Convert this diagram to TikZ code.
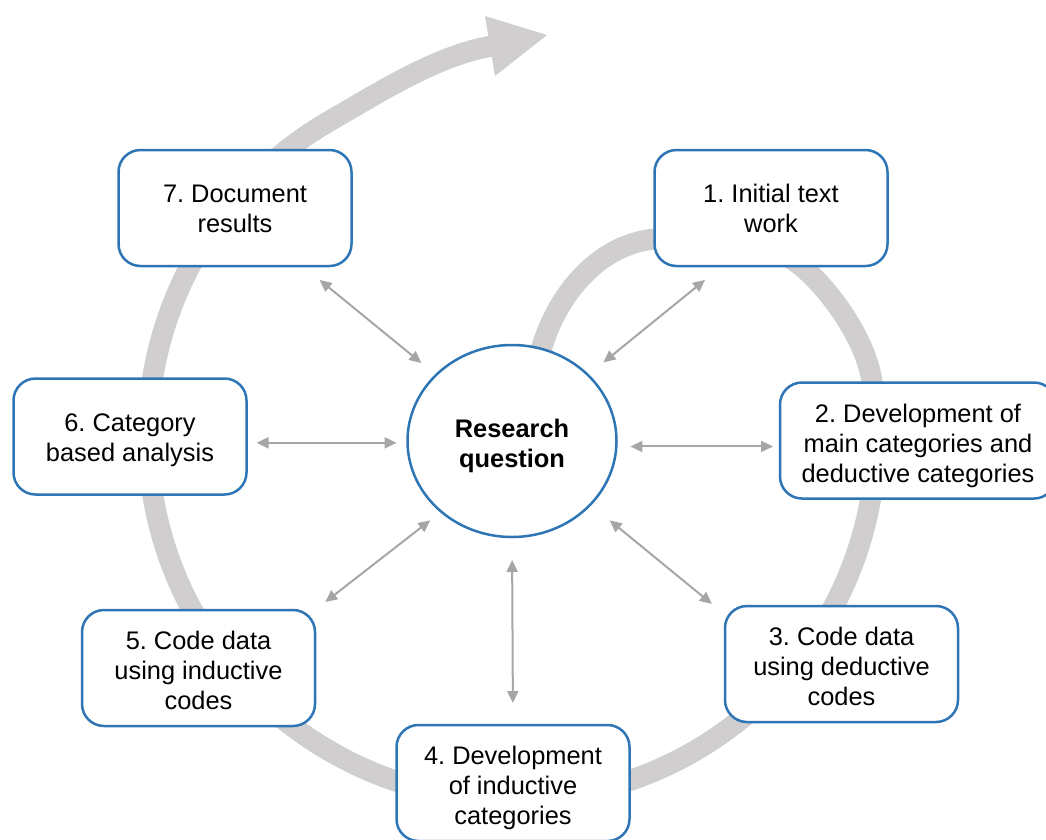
\documentclass[tikz,border=0pt]{standalone}
\usepackage{fontspec}
\setmainfont{Liberation Sans}
\usetikzlibrary{arrows.meta,shapes.geometric,calc}
\definecolor{bandgray}{RGB}{208,206,206}
\definecolor{linkgray}{RGB}{166,166,166}
\definecolor{boxblue}{RGB}{46,117,182}
\frenchspacing
\begin{document}
\begin{tikzpicture}[x=1pt,y=-1pt,
  boxtext/.style={align=center, font=\fontsize{25.4}{30}\selectfont,
    text depth=0pt, text height=49pt},
  threelines/.style={text height=83pt},
  stepbox/.style={boxtext, draw=boxblue, line width=2.5pt, fill=white,
    rounded corners=22pt, minimum width=233pt, minimum height=116pt,
    inner sep=0pt, outer sep=0pt},
  hub/.style={boxtext, text height=53pt, ellipse, draw=boxblue, line width=2.5pt,
    fill=white, minimum width=209pt, minimum height=192pt, inner sep=0pt,
    outer sep=0pt, font=\fontsize{25.4}{30}\selectfont\bfseries},
  band/.style={draw=bandgray, line width=21pt},
  link/.style={draw=linkgray, line width=2pt,
    {Triangle[length=12pt,width=11pt]}-{Triangle[length=12pt,width=11pt]}}
]
\useasboundingbox (0,0) rectangle (1046,839);

% the process spiral, drawn first so that boxes sit on top of it;
% with y pointing down, arc angles run clockwise on the page
\draw[band] (536,372) .. controls (546,310) and (590,245) .. (655,239)
  .. controls (695,235) and (760,233) .. (800,265)
  .. controls (830,289) and (865.3,339.6) .. (871.52,379.06)
  arc[start angle=-9, end angle=240, radius=364]
  .. controls (382,90.8) and (437,55.5) .. (492,46);
\fill[bandgray] (485,16) -- (547,35) -- (495,76) -- cycle;

% centre and the seven steps
\node[hub] (rq) at (512,441) {Research\\question};
\node[stepbox] (b1) at (771,208) {1. Initial text\\work};
\node[stepbox, threelines, minimum width=276pt] (b2) at (918,440.5) {2. Development of\\main categories and\\deductive categories};
\node[stepbox, threelines] (b3) at (841.5,664) {3. Code data\\using deductive\\codes};
\node[stepbox, threelines] (b4) at (513,783) {4. Development\\of inductive\\categories};
\node[stepbox, threelines] (b5) at (198.5,668) {5. Code data\\using inductive\\codes};
\node[stepbox] (b6) at (130,436.5) {6. Category\\based analysis};
\node[stepbox] (b7) at (235,208) {7. Document\\results};

% two-way links between the question and each step
\draw[link, shorten <=20pt, shorten >=22pt] (rq.41) -- ($(b1.south west)!0.29!(b1.south east)$);
\draw[link, shorten <=14pt, shorten >=7pt] (rq.357) -- (rq.357 -| b2.west);
\draw[link, shorten <=25pt, shorten >=17pt] (rq.321) -- ([yshift=-8.7pt]b3.north west);
\draw[link, shorten <=23pt, shorten >=22pt] (rq.south) -- (b4.north);
\draw[link, shorten <=14pt, shorten >=13pt] (rq.225) -- (b5.north east);
\draw[link, shorten <=11pt, shorten >=10pt] (rq.181) -- (rq.181 -| b6.east);
\draw[link, shorten <=19pt, shorten >=22pt] (rq.139) -- ($(b7.south west)!0.79!(b7.south east)$);
\end{tikzpicture}
\end{document}
